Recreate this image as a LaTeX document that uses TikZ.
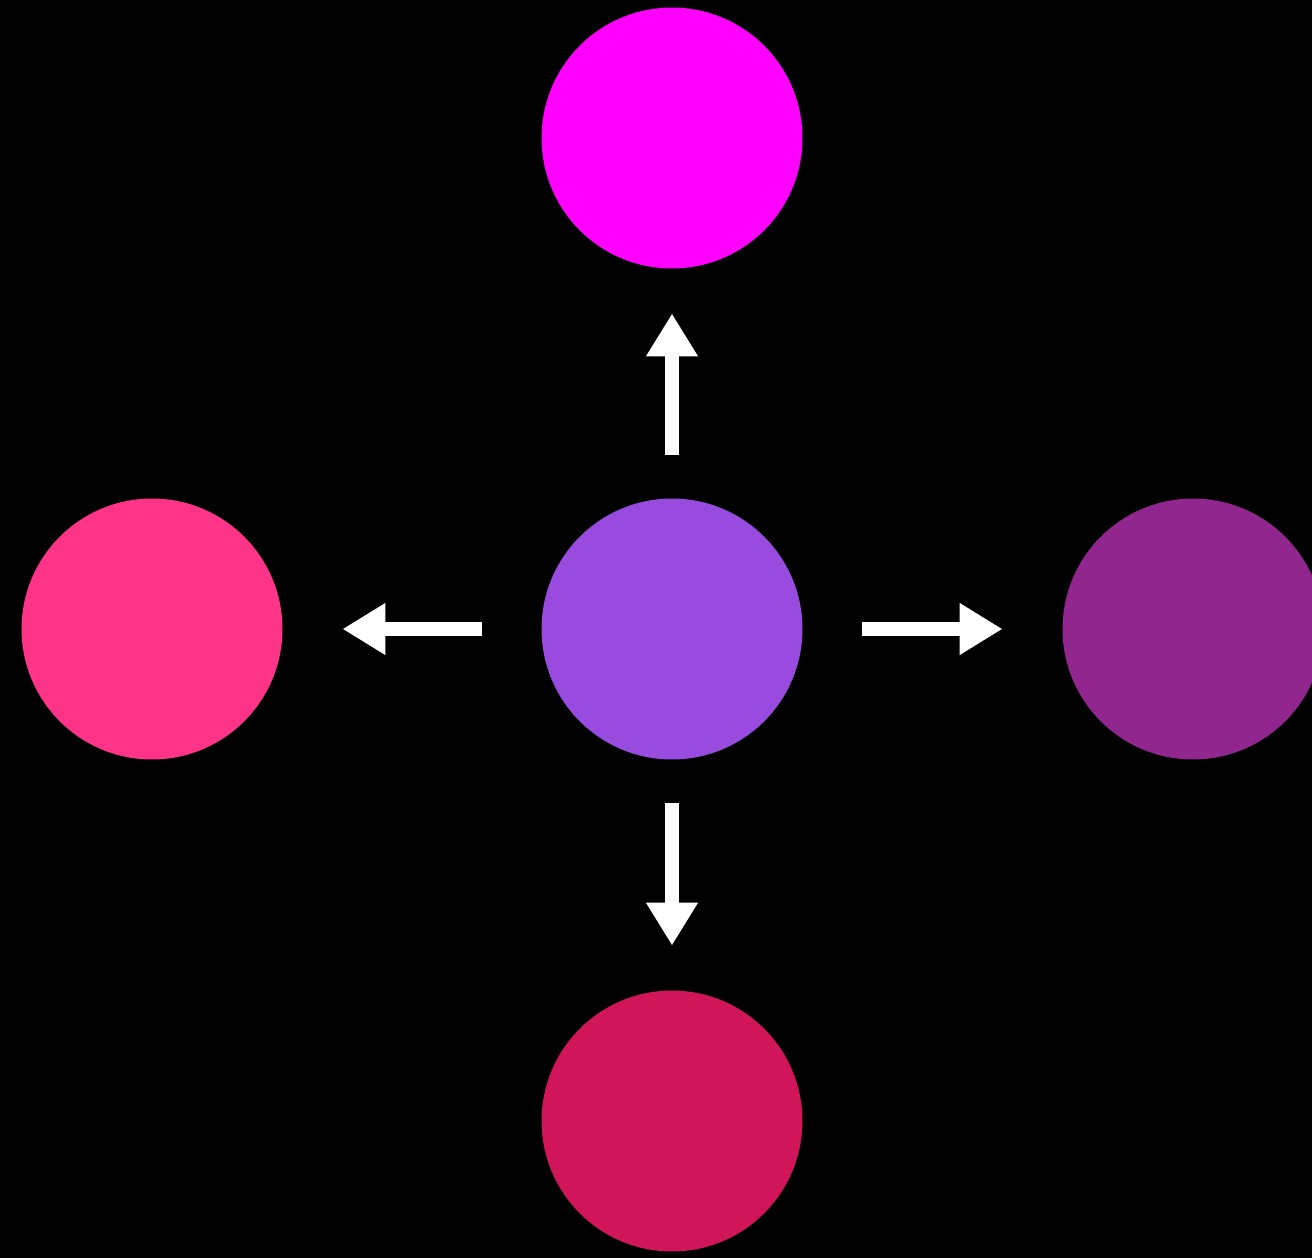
\documentclass[tikz,border=0pt]{standalone}
\usepackage{tikz}
\usetikzlibrary{arrows.meta, positioning}
\definecolor{cmid}{RGB}{153,75,223}
\definecolor{ctop}{RGB}{255,0,255}
\definecolor{cleft}{RGB}{255,51,136}
\definecolor{cright}{RGB}{145,38,143}
\definecolor{cbot}{RGB}{209,21,91}
\tikzstyle{cnode} = [circle, inner sep = 0pt, outer sep = 0pt, minimum size = 5.22cm]
\tikzstyle{line} = [draw, white, line width = 0.28cm, -{Triangle[length=0.86cm, width=0.98cm]}]
\tikzstyle{vline} = [line, shorten <= 0.88cm, shorten >= 0.9cm]
\tikzstyle{hline} = [line, shorten <= 1.2cm, shorten >= 1.2cm]

\begin{document}
\begin{tikzpicture}[x=0.02cm, y=-0.02cm]
			\useasboundingbox (0,0) rectangle (1312,1258);
			\clip (0,0) rectangle (1312,1258);
			\fill [black] (0,0) rectangle (1312,1258);

			\node [cnode, fill=cmid] (mid) at (672, 629) {};
			\node [cnode, fill=ctop] (top) at (672, 138) {};
			\node [cnode, fill=cbot] (bot) at (672, 1121) {};
			\node [cnode, fill=cleft] (left) at (152, 629) {};
			\node [cnode, fill=cright] (right) at (1193, 629) {};

			\path [vline] (mid) -- (top);
			\path [vline] (mid) -- (bot);
			\path [hline] (mid) -- (left);
			\path [hline] (mid) -- (right);
		\end{tikzpicture}
\end{document}
